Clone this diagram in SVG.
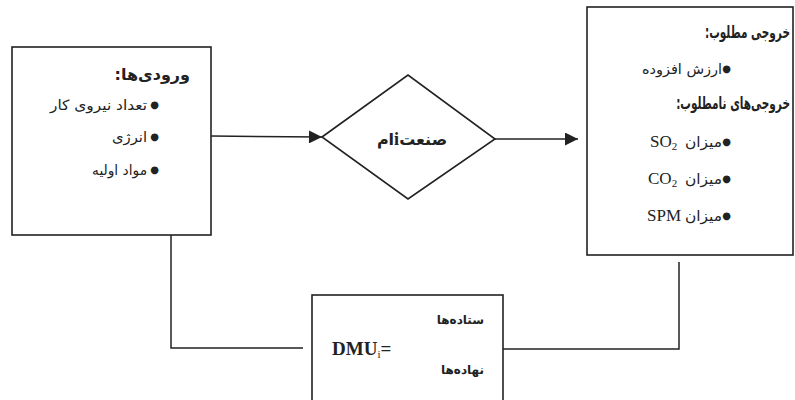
<svg xmlns="http://www.w3.org/2000/svg" width="795" height="400" viewBox="0 0 795 400">
<defs>
<style>
.box{fill:#fff;stroke:#222;stroke-width:1.6}
.ln{fill:none;stroke:#222;stroke-width:1.5}
.fa{font-family:"DejaVu Sans","Noto Sans",sans-serif;fill:#222;direction:rtl}
.it{font-size:14px}
.bu{font-family:"DejaVu Sans",sans-serif;font-size:10px;fill:#222}
.lat{font-family:"Liberation Serif",serif;font-size:17px;fill:#222}
</style>
<marker id="ar" viewBox="0 0 10 10" refX="10" refY="5" markerWidth="14" markerHeight="13" markerUnits="userSpaceOnUse" orient="auto">
<path d="M0,0 L10,5 L0,10 z" fill="#222"/>
</marker>
</defs>
<rect width="795" height="400" fill="#fff"/>
<g id="connectors">
<line class="ln" x1="211" y1="136" x2="322" y2="137" marker-end="url(#ar)"/>
<line class="ln" x1="495" y1="139" x2="578" y2="139" marker-end="url(#ar)"/>
<polyline class="ln" points="171,235 171,348 303,348"/>
<polyline class="ln" points="400,349 679,349 679,262"/>
</g>
<g id="inputs">
<rect class="box" x="12" y="47" width="199" height="188"/>
<text class="fa" x="190" y="80" font-size="16" font-weight="bold" text-anchor="start">ورودی‌ها:</text>
<text class="bu" x="159" y="108" text-anchor="end">●</text>
<text class="fa it" x="147" y="110" text-anchor="start" textLength="97" lengthAdjust="spacingAndGlyphs">تعداد نیروی کار</text>
<text class="bu" x="159" y="140" text-anchor="end">●</text>
<text class="fa it" x="147" y="142" text-anchor="start" textLength="35" lengthAdjust="spacingAndGlyphs">انرژی</text>
<text class="bu" x="159" y="173" text-anchor="end">●</text>
<text class="fa it" x="147" y="175" text-anchor="start" textLength="55" lengthAdjust="spacingAndGlyphs">مواد اولیه</text>
</g>
<g id="industry">
<polygon class="box" points="322,137 408,75 495,139 408,199"/>
<text class="fa" x="412" y="145" font-size="16" font-weight="bold" text-anchor="middle">صنعت<tspan font-family="Liberation Serif,serif" font-size="18">i</tspan>ام</text>
</g>
<g id="outputs">
<rect class="box" x="587" y="7" width="206" height="248"/>
<text class="fa" transform="translate(790,38) scale(0.62,1)" font-size="17" font-weight="bold" text-anchor="start">خروجی مطلوب:</text>
<text class="bu" x="731" y="72" text-anchor="end">●</text>
<text class="fa it" x="722" y="74" text-anchor="start" textLength="80" lengthAdjust="spacingAndGlyphs">ارزش افزوده</text>
<text class="fa" transform="translate(790,109) scale(0.62,1)" font-size="17" font-weight="bold" text-anchor="start">خروجی‌های نامطلوب:</text>
<text class="bu" x="731" y="145" text-anchor="end">●</text>
<text class="fa it" x="722" y="147" text-anchor="start" textLength="37" lengthAdjust="spacingAndGlyphs">میزان</text>
<text class="lat" x="650" y="147">SO<tspan font-size="11" dy="3">2</tspan></text>
<text class="bu" x="731" y="182" text-anchor="end">●</text>
<text class="fa it" x="722" y="184" text-anchor="start" textLength="37" lengthAdjust="spacingAndGlyphs">میزان</text>
<text class="lat" x="648" y="184">CO<tspan font-size="11" dy="3">2</tspan></text>
<text class="bu" x="731" y="219" text-anchor="end">●</text>
<text class="fa it" x="722" y="221" text-anchor="start" textLength="37" lengthAdjust="spacingAndGlyphs">میزان</text>
<text class="lat" x="681" y="221" text-anchor="end">SPM</text>
</g>
<g id="dmu">
<rect class="box" x="312" y="295" width="191" height="115"/>
<text x="332" y="355" font-family="Liberation Serif,serif" font-weight="bold" font-size="19" fill="#222">DMU<tspan font-size="11" font-weight="normal" dy="3">i</tspan><tspan dy="-3">=</tspan></text>
<text class="fa" x="484" y="324" font-size="12" font-weight="bold" text-anchor="start">ستاده‌ها</text>
<text class="fa" x="484" y="374" font-size="12" font-weight="bold" text-anchor="start">نهاده‌ها</text>
</g>
</svg>
